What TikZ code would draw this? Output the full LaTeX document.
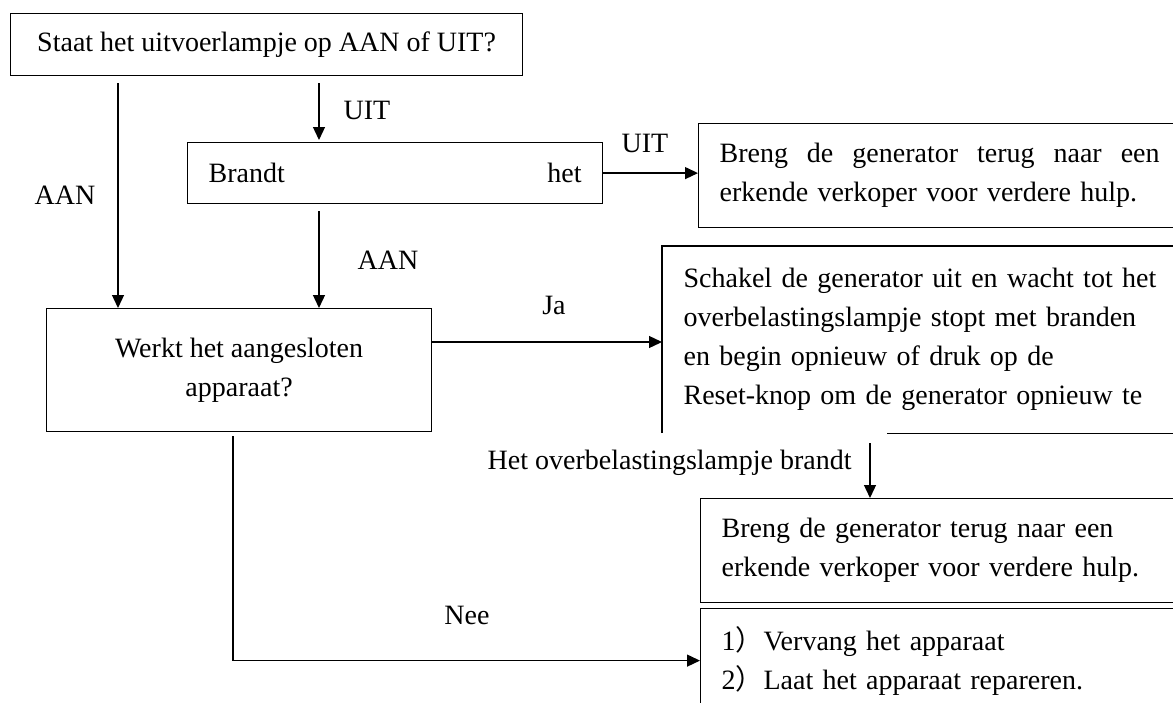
\documentclass[tikz,border=0pt]{standalone}
\usepackage{fontspec}
\setmainfont{Liberation Serif}
\newfontfamily\cjk{Noto Sans CJK SC}
\usetikzlibrary{arrows.meta,calc}
\setlength{\parindent}{0pt}

\tikzset{
  box/.style={draw, line width=0.6pt, anchor=north west, inner xsep=10.5pt, inner ysep=0pt},
  arr/.style={-{Triangle[length=6.5pt,width=6pt]}, line width=0.65pt},
  lbl/.style={inner sep=0pt},
}

\begin{document}
\begin{tikzpicture}[x=0.5pt,y=-0.5pt,line join=miter,font=\fontsize{14}{19.5}\selectfont]
\useasboundingbox (0,0) rectangle (1173,702);
\clip (0,0) rectangle (1173,702);

% columns of the vertical arrows
\coordinate (colA) at (118,0);
\coordinate (colB) at (319,0);
\coordinate (colN) at (233,0);
\coordinate (colC) at (870,0);

% ---- question boxes ----
\node[box, minimum width=256pt, minimum height=31pt] (staat) at (10,13) {Staat het uitvoerlampje op AAN of UIT?};
\node[box, minimum width=207.5pt, minimum height=30.5pt, text width=186.5pt] (brandt) at (187,142) {Brandt\hfill het};
\node[box, minimum width=192.5pt, minimum height=61.5pt, align=center] (werkt) at (46,308) {Werkt het aangesloten\\apparaat?};

% ---- answer boxes (cut off at the right edge) ----
\node[box, minimum height=52pt, text width=225pt] (terug1) at (698,123)
  {\makebox[220pt]{Breng\hfill de\hfill generator\hfill terug\hfill naar\hfill een}\\erkende verkoper voor verdere hulp.};
\node[box, draw=none, minimum height=93pt, text width=243pt, align=left] (schakel) at (662,246)
  {Schakel de generator uit en wacht tot het\\overbelastingslampje stopt met branden\\en begin opnieuw of druk op de\\Reset-knop om de generator opnieuw te};
\draw[line width=0.6pt] (schakel.south west) -- (schakel.north west) -- (schakel.north east);
\draw[line width=0.6pt] ($(schakel.south west)+(225,0)$) -- (schakel.south east);
\node[box, minimum height=52pt, text width=224pt, align=left] (terug2) at (700,498)
  {Breng de generator terug naar een\\erkende verkoper voor verdere hulp.};
\node[box, minimum height=52pt, text width=224pt, align=left] (repair) at (700,608)
  {1{\cjk ）}Vervang het apparaat\\2{\cjk ）}Laat het apparaat repareren.};

% ---- arrows ----
\draw[arr, shorten <=3.5pt] (staat.south -| colA) -- (werkt.north -| colA);
\draw[arr, shorten <=3.5pt, shorten >=1pt] (staat.south -| colB) -- (brandt.north -| colB);
\draw[arr, shorten <=3.5pt] (brandt.south -| colB) -- (werkt.north -| colB);
\draw[arr] (brandt.east) -- (brandt.east -| terug1.west);
\coordinate (jaStart) at ($(werkt.north east)+(0,34)$);
\draw[arr] (jaStart) -- (jaStart -| schakel.west);
\draw[arr, shorten <=2pt] (werkt.south -| colN) |- (repair.west);
\draw[arr, shorten <=5pt] (schakel.south -| colC) -- (terug2.north -| colC);

% ---- labels ----
\node[lbl] (aanA) at (65,195) {AAN};
\node[lbl] (uitB) at (367,110) {UIT};
\node[lbl] (aanB) at (388,260) {AAN};
\node[lbl] (uitC) at (645,143) {UIT};
\node[lbl] (ja) at (554,305) {Ja};
\node[lbl, anchor=east] (brandtlbl) at (852,463) {Het overbelastingslampje brandt};
\node[lbl] (nee) at (467,615) {Nee};
\end{tikzpicture}
\end{document}
